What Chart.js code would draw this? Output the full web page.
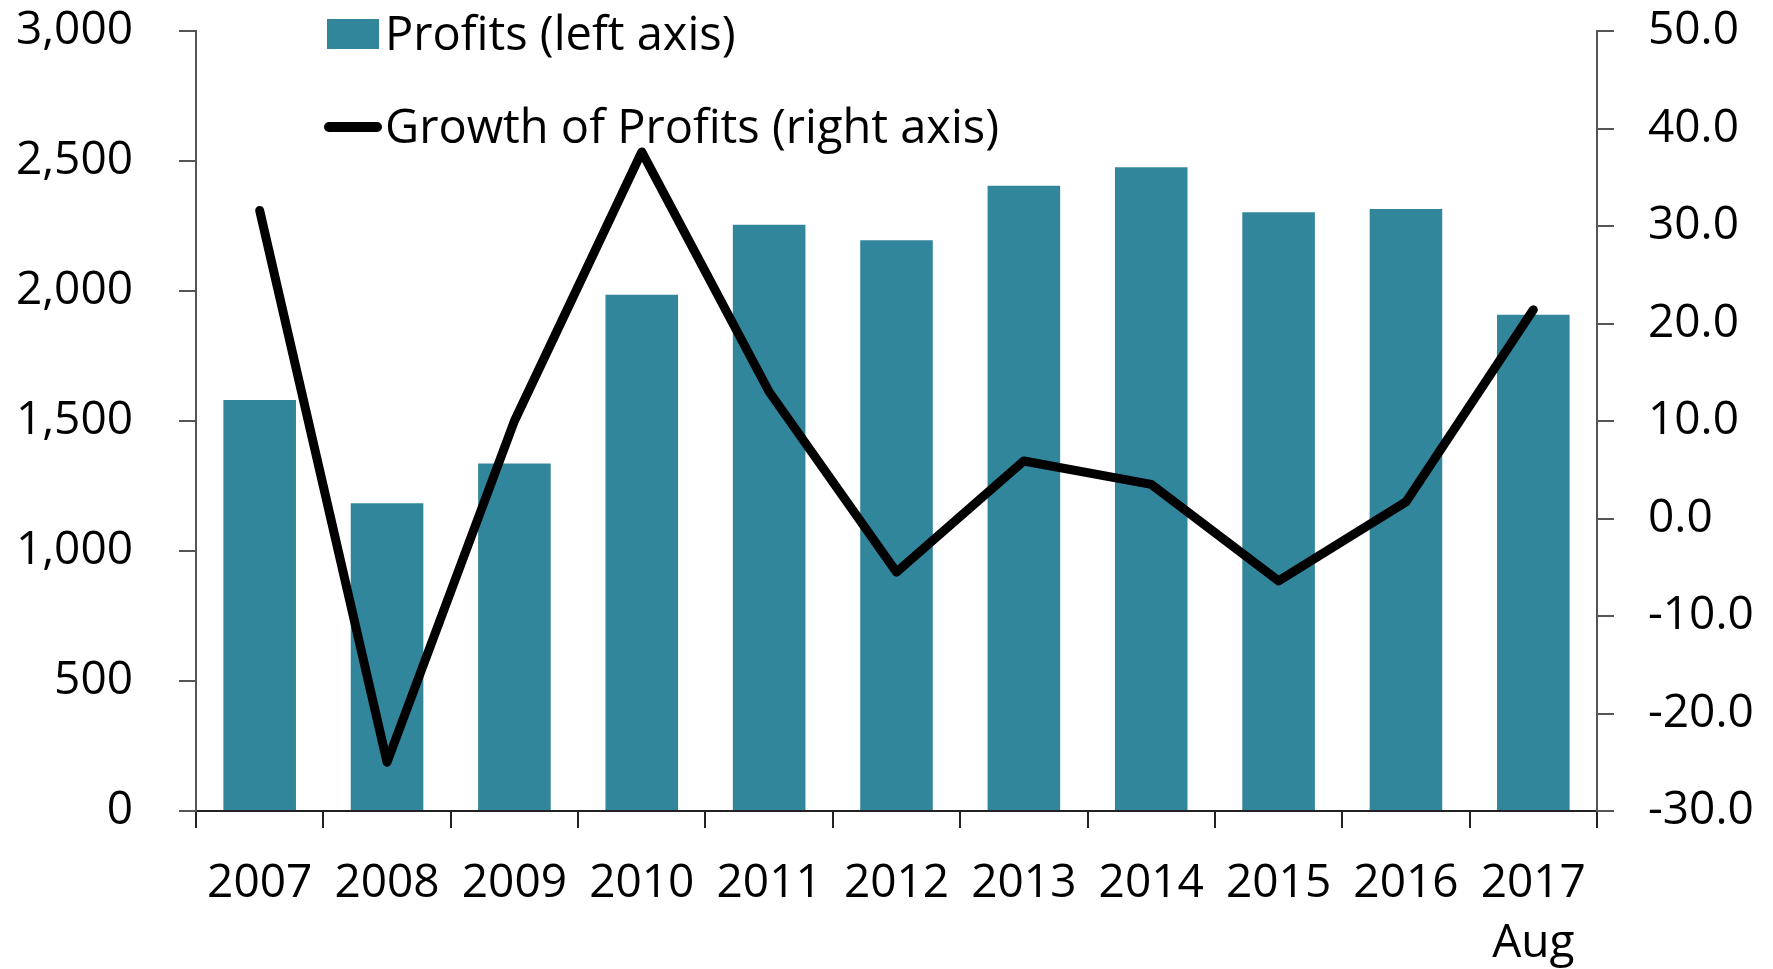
<!DOCTYPE html>
<html>
<head>
<meta charset="utf-8">
<script src="https://cdn.jsdelivr.net/npm/chart.js@4"></script>
<style>
  html, body { margin: 0; padding: 0; background: #fff; }
  #wrap { width: 1773px; height: 969px; }
</style>
</head>
<body>
<div id="wrap"><canvas id="chart_profits" width="1773" height="969"></canvas></div>
<script>
// values
var years = ['2007', '2008', '2009', '2010', '2011', '2012', '2013', '2014', '2015', '2016', ['2017', 'Aug']];
var profits = [1581, 1184, 1337, 1986, 2255, 2195, 2405, 2476, 2303, 2315, 1909];
var profitGrowth = [31.6, -25.0, 10.0, 37.6, 13.0, -5.5, 5.9, 3.5, -6.4, 1.7, 21.4];
var leftTicks = [0, 500, 1000, 1500, 2000, 2500, 3000];
var rightTicks = [-30, -20, -10, 0, 10, 20, 30, 40, 50];

var barColor = '#32869c';
var tickFont = { family: 'Open Sans', size: 46, lineHeight: 1.3 };

function noScalePadding(scale) {
    scale.paddingTop = 0;
    scale.paddingBottom = 0;
    scale.paddingLeft = 0;
    scale.paddingRight = 0;
}

var chart_profits = new Chart(document.getElementById('chart_profits'), {
    type: 'bar',
    data: {
        labels: years,
        datasets: [
            {
                type: 'line',
                label: 'Growth of Profits (right axis)',
                data: profitGrowth,
                yAxisID: 'y1',
                borderColor: '#000',
                backgroundColor: '#000',
                borderWidth: 9,
                borderCapStyle: 'round',
                borderJoinStyle: 'round',
                pointRadius: 0,
                tension: 0,
                order: 0
            },
            {
                label: 'Profits (left axis)',
                data: profits,
                yAxisID: 'y',
                backgroundColor: barColor,
                borderWidth: 0,
                barPercentage: 0.57,
                categoryPercentage: 1,
                order: 1
            }
        ]
    },
    options: {
        animation: false,
        responsive: false,
        maintainAspectRatio: false,
        layout: { padding: { top: 31, left: 0, right: 0, bottom: 0 } },
        plugins: {
            legend: { display: false },
            tooltip: { enabled: false }
        },
        scales: {
            x: {
                grid: { offset: true, drawOnChartArea: false, tickLength: 17, color: '#222', lineWidth: 2 },
                border: { color: '#222', width: 2 },
                ticks: { font: tickFont, color: '#000', padding: 26, maxRotation: 0, autoSkip: false },
                afterFit: function (scale) { noScalePadding(scale); scale.height = 158; }
            },
            y: {
                position: 'left',
                min: leftTicks[0],
                max: leftTicks[leftTicks.length - 1],
                afterBuildTicks: function (scale) {
                    scale.ticks = leftTicks.map(function (v) { return { value: v }; });
                },
                grid: { drawOnChartArea: false, tickLength: 17, color: '#555', lineWidth: 2 },
                border: { color: '#555', width: 2 },
                ticks: {
                    font: tickFont, color: '#000', padding: 46,
                    callback: function (v) { return Number(v).toLocaleString('en-US'); }
                },
                afterFit: function (scale) { noScalePadding(scale); scale.width = 196; }
            },
            y1: {
                position: 'right',
                min: rightTicks[0],
                max: rightTicks[rightTicks.length - 1],
                afterBuildTicks: function (scale) {
                    scale.ticks = rightTicks.map(function (v) { return { value: v }; });
                },
                grid: { drawOnChartArea: false, tickLength: 17, color: '#555', lineWidth: 2 },
                border: { color: '#555', width: 2 },
                ticks: {
                    font: tickFont, color: '#000', padding: 34,
                    callback: function (v) { return Number(v).toFixed(1); }
                },
                afterFit: function (scale) { noScalePadding(scale); scale.width = 176; }
            }
        }
    },
    plugins: [{
        id: 'whiteBackground',
        beforeDraw: (chart) => {
            const ctx = chart.canvas.getContext('2d');
            ctx.save();
            ctx.globalCompositeOperation = 'destination-over';
            ctx.fillStyle = 'white';
            ctx.fillRect(0, 0, chart.canvas.width, chart.canvas.height);
            ctx.restore();
        }
    }, {
        // legend sits inside the plot, stacked, like the original
        id: 'insideLegend',
        afterDraw: (chart) => {
            const ctx = chart.ctx;
            const bars = chart.data.datasets[1];
            const line = chart.data.datasets[0];
            ctx.save();
            ctx.font = '47px "Open Sans"';
            ctx.textBaseline = 'middle';
            ctx.textAlign = 'left';

            ctx.fillStyle = bars.backgroundColor;
            ctx.fillRect(327, 19, 52, 30);
            ctx.fillStyle = '#000';
            ctx.fillText(bars.label, 385, 37);

            ctx.strokeStyle = line.borderColor;
            ctx.lineWidth = 10;
            ctx.lineCap = 'round';
            ctx.beginPath();
            ctx.moveTo(329, 127);
            ctx.lineTo(377, 127);
            ctx.stroke();
            ctx.fillText(line.label, 385, 130);
            ctx.restore();
        }
    }]
});
</script>
</body>
</html>
